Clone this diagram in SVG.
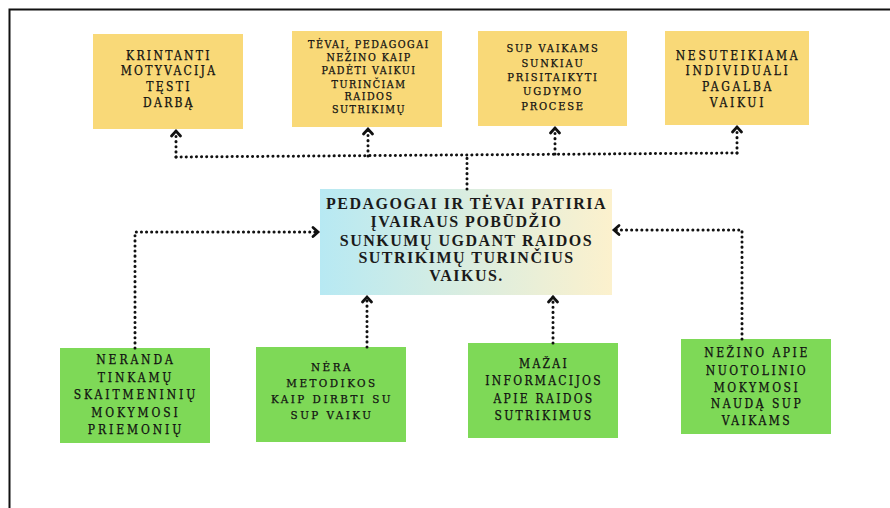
<svg xmlns="http://www.w3.org/2000/svg" width="890" height="508" viewBox="0 0 890 508">
<defs>
<linearGradient id="g" x1="0" y1="0" x2="1" y2="0">
<stop offset="0" stop-color="#b7e9f3"/>
<stop offset="1" stop-color="#fcf1cd"/>
</linearGradient>
<marker id="ah" markerUnits="userSpaceOnUse" markerWidth="14" markerHeight="14" viewBox="-8 -7 14 14" refX="0" refY="0" orient="auto">
<path d="M-5,-4.5 L0,0 L-5,4.5" fill="none" stroke="#111" stroke-width="2.8" stroke-linecap="round" stroke-linejoin="miter"/>
</marker>
<style>
.y{fill:#f9d978}
.gr{fill:#7ed957}
.t{font-family:"DejaVu Serif",serif;font-stretch:condensed;font-size:12px;fill:#111;stroke:#111;stroke-width:0.25px;text-anchor:middle;letter-spacing:2.3px}
.c{font-family:"Liberation Serif",serif;font-weight:bold;font-size:16px;fill:#1a1a1a;text-anchor:middle;letter-spacing:1.5px}
.d{fill:none;stroke:#111;stroke-width:3;stroke-dasharray:0.1 5;stroke-linecap:round}
</style>
</defs>
<rect width="890" height="508" fill="#fff"/>
<path d="M9.5 508 V9.5 H890" fill="none" stroke="#111" stroke-width="2"/>

<g id="n1"><rect class="y" x="93" y="34" width="150" height="95"/>
<text class="t"><tspan x="169" y="60">KRINTANTI</tspan><tspan x="169" y="75">MOTYVACIJA</tspan><tspan x="169" y="91">TĘSTI</tspan><tspan x="169" y="107">DARBĄ</tspan></text></g>

<g id="n2"><rect class="y" x="292" y="31" width="150" height="96"/>
<text class="t" style="font-size:10.6px;letter-spacing:1.5px"><tspan x="369" y="48">TĖVAI, PEDAGOGAI</tspan><tspan x="369" y="61">NEŽINO KAIP</tspan><tspan x="369" y="74">PADĖTI VAIKUI</tspan><tspan x="369" y="88">TURINČIAM</tspan><tspan x="369" y="100">RAIDOS</tspan><tspan x="369" y="113">SUTRIKIMŲ</tspan></text></g>

<g id="n3"><rect class="y" x="478" y="31" width="149" height="95"/>
<text class="t" style="font-size:11px;letter-spacing:1.8px"><tspan x="553" y="52">SUP VAIKAMS</tspan><tspan x="553" y="67">SUNKIAU</tspan><tspan x="553" y="81">PRISITAIKYTI</tspan><tspan x="553" y="95">UGDYMO</tspan><tspan x="553" y="110">PROCESE</tspan></text></g>

<g id="n4"><rect class="y" x="665" y="31" width="144" height="94"/>
<text class="t" style="letter-spacing:2.7px"><tspan x="738" y="60">NESUTEIKIAMA</tspan><tspan x="738" y="75">INDIVIDUALI</tspan><tspan x="738" y="91">PAGALBA</tspan><tspan x="738" y="107">VAIKUI</tspan></text></g>

<g id="center"><rect x="320" y="189" width="292" height="106" fill="url(#g)"/>
<text class="c"><tspan x="466.5" y="209">PEDAGOGAI IR TĖVAI PATIRIA</tspan><tspan x="466.5" y="227">ĮVAIRAUS POBŪDŽIO</tspan><tspan x="466.5" y="246">SUNKUMŲ UGDANT RAIDOS</tspan><tspan x="466.5" y="263">SUTRIKIMŲ TURINČIUS</tspan><tspan x="466.5" y="281">VAIKUS.</tspan></text></g>

<g id="b1"><rect class="gr" x="60" y="348" width="150" height="95"/>
<text class="t" style="letter-spacing:2.9px"><tspan x="136" y="364">NERANDA</tspan><tspan x="136" y="382">TINKAMŲ</tspan><tspan x="136" y="399">SKAITMENINIŲ</tspan><tspan x="136" y="417">MOKYMOSI</tspan><tspan x="136" y="434">PRIEMONIŲ</tspan></text></g>

<g id="b2"><rect class="gr" x="256" y="347" width="150" height="95"/>
<text class="t" style="font-size:11.5px;letter-spacing:2.5px"><tspan x="332" y="371">NĖRA</tspan><tspan x="332" y="387">METODIKOS</tspan><tspan x="332" y="403">KAIP DIRBTI SU</tspan><tspan x="332" y="419">SUP VAIKU</tspan></text></g>

<g id="b3"><rect class="gr" x="468" y="343" width="150" height="95"/>
<text class="t" style="letter-spacing:2.3px"><tspan x="544" y="368">MAŽAI</tspan><tspan x="544" y="385">INFORMACIJOS</tspan><tspan x="544" y="403">APIE RAIDOS</tspan><tspan x="544" y="420">SUTRIKIMUS</tspan></text></g>

<g id="b4"><rect class="gr" x="681" y="339" width="150" height="95"/>
<text class="t" style="letter-spacing:2.5px"><tspan x="757" y="357">NEŽINO APIE</tspan><tspan x="757" y="375">NUOTOLINIO</tspan><tspan x="757" y="392">MOKYMOSI</tspan><tspan x="757" y="408">NAUDĄ SUP</tspan><tspan x="757" y="425">VAIKAMS</tspan></text></g>

<g id="connectors">
<path class="d" d="M467,189 V155"/>
<path class="d" d="M176,157 L737,153"/>
<path class="d" d="M176,157 V131" marker-end="url(#ah)"/>
<path class="d" d="M368,156 V129" marker-end="url(#ah)"/>
<path class="d" d="M555,154 V128" marker-end="url(#ah)"/>
<path class="d" d="M737,153 V127" marker-end="url(#ah)"/>
<path class="d" d="M135,348 V232 H318" marker-end="url(#ah)"/>
<path class="d" d="M742,339 V230 H614" marker-end="url(#ah)"/>
<path class="d" d="M367,347 V297" marker-end="url(#ah)"/>
<path class="d" d="M553,343 V297" marker-end="url(#ah)"/>
</g>
</svg>
